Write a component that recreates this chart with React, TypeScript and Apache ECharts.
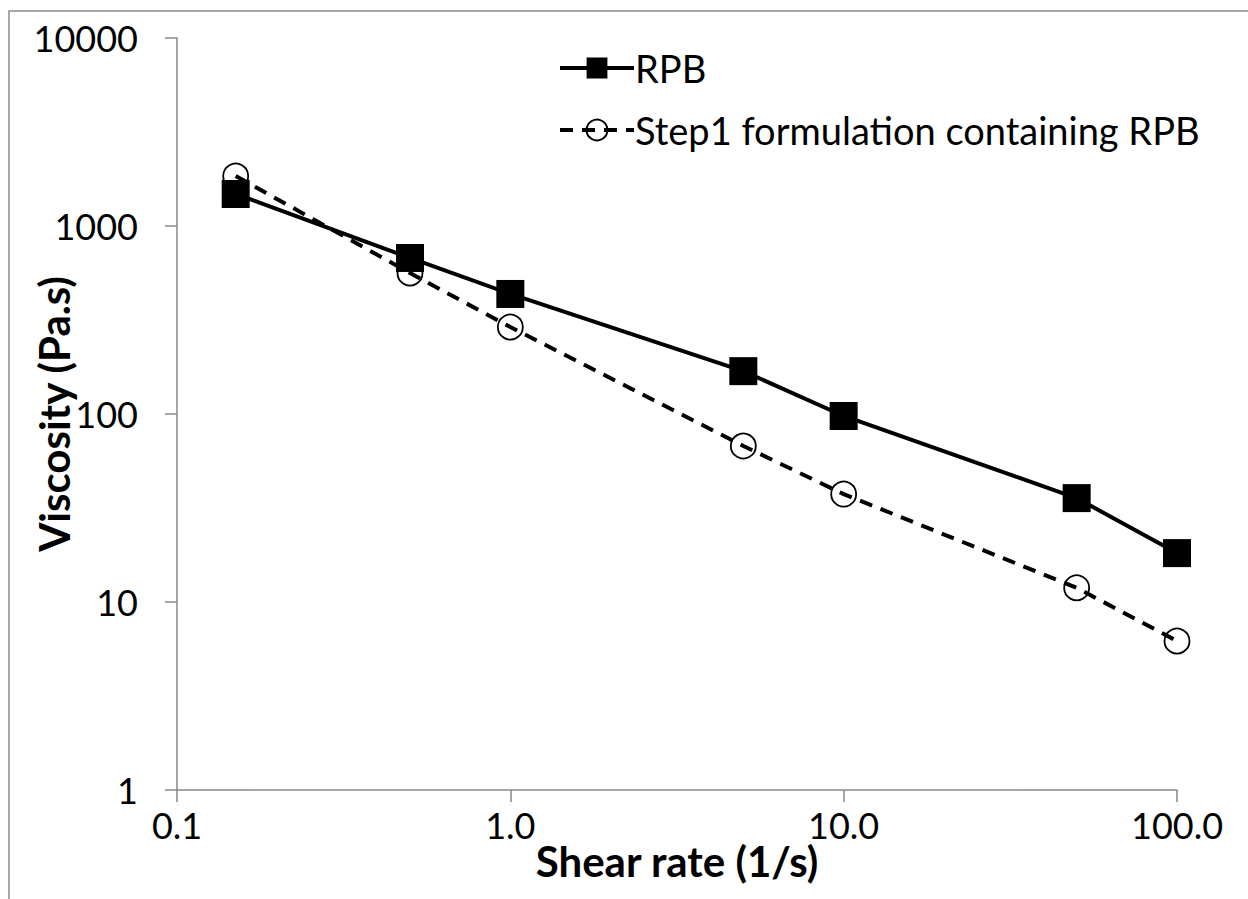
import React, { useEffect, useRef } from "react";
import * as echarts from "echarts";

const shearRates: number[] = [0.15, 0.5, 1, 5, 10, 50, 100];
const rpbViscosity: number[] = [1480, 676, 435, 169, 97.6, 35.7, 18.2];
const step1Viscosity: number[] = [1845, 562, 290, 67.6, 37.5, 11.9, 6.2];
const seriesNames: string[] = ["RPB", "Step1 formulation containing RPB"];
const xAxisTitle = "Shear rate (1/s)";
const yAxisTitle = "Viscosity (Pa.s)";

const FONT = "Lato, 'Open Sans', sans-serif";

export default function App() {
  const ref = useRef<HTMLDivElement>(null);
  useEffect(() => {
    document.body.style.margin = "0";
    if (!ref.current) return;
    const chart = echarts.init(ref.current, undefined, { renderer: "svg" });
    const axisColor = "#888888";
    chart.setOption({
      animation: false,
      backgroundColor: "#ffffff",
      textStyle: { fontFamily: FONT, color: "#000" },
      graphic: [
        {
          type: "rect",
          shape: { x: 9, y: 11, width: 1400, height: 1000 },
          style: { fill: "none", stroke: "#8c8c8c", lineWidth: 1.5 },
          silent: true,
          z: -1,
        },
      ],
      grid: { left: 177, right: 71, top: 38, bottom: 109, containLabel: false },
      legend: {
        left: 553,
        top: 44,
        orient: "vertical",
        itemWidth: 74,
        itemHeight: 26,
        itemGap: 24,
        lineStyle: { width: 4 },
        textStyle: { fontSize: 38, fontFamily: FONT, color: "#000", padding: [0, 0, 0, -4] },
        data: seriesNames,
      },
      xAxis: {
        type: "log",
        logBase: 10,
        min: 0.1,
        max: 100,
        axisLine: { show: true, lineStyle: { color: axisColor, width: 1.5 } },
        axisTick: { show: true, inside: false, length: 12, lineStyle: { color: axisColor, width: 1.5 } },
        minorTick: { show: false },
        splitLine: { show: false },
        axisLabel: {
          fontSize: 36,
          fontFamily: FONT,
          color: "#000",
          margin: 17,
          formatter: (v: number) => v.toFixed(1),
        },
        name: xAxisTitle,
        nameLocation: "middle",
        nameGap: 50,
        nameMoveOverlap: false,
        nameTextStyle: { fontSize: 42, fontWeight: "bold", fontFamily: FONT, color: "#000" },
      },
      yAxis: {
        type: "log",
        logBase: 10,
        min: 1,
        max: 10000,
        axisLine: { show: true, lineStyle: { color: axisColor, width: 1.5 } },
        axisTick: { show: true, inside: false, length: 12, lineStyle: { color: axisColor, width: 1.5 } },
        splitLine: { show: false },
        axisLabel: {
          fontSize: 36,
          fontFamily: FONT,
          color: "#000",
          margin: 39,
          formatter: (v: number) => String(Math.round(v)),
        },
        name: yAxisTitle,
        nameLocation: "middle",
        nameGap: 102,
        nameMoveOverlap: false,
        nameTextStyle: { fontSize: 42, fontWeight: "bold", fontFamily: FONT, color: "#000" },
      },
      series: [
        {
          name: seriesNames[0],
          type: "line",
          data: shearRates.map((x, i) => [x, rpbViscosity[i]]),
          symbol: "rect",
          symbolSize: 28,
          lineStyle: { color: "#000", width: 4, type: "solid" },
          itemStyle: { color: "#000", borderColor: "#000", borderWidth: 0 },
          z: 2,
        },
        {
          name: seriesNames[1],
          type: "line",
          data: shearRates.map((x, i) => [x, step1Viscosity[i]]),
          symbol: "circle",
          symbolSize: 25,
          lineStyle: { color: "#000", width: 4, type: [13, 9] },
          itemStyle: { color: "rgba(255,255,255,0)", borderColor: "#000", borderWidth: 1.8 },
          z: 3,
        },
      ],
    });
    return () => chart.dispose();
  }, []);
  return <div ref={ref} style={{ width: 1248, height: 899 }} />;
}
